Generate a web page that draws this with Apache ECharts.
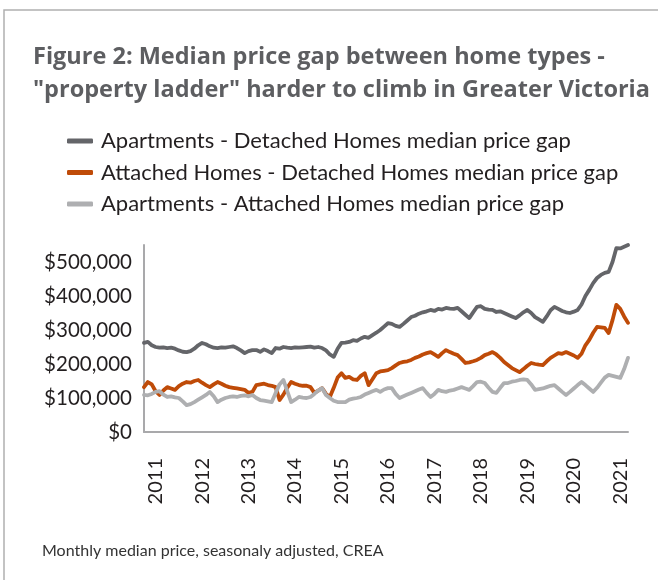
<!DOCTYPE html>
<html>
<head>
<meta charset="utf-8">
<script src="https://cdn.jsdelivr.net/npm/echarts@6/dist/echarts.min.js"></script>
<style>
  html, body { margin: 0; padding: 0; background: #fff; }
  #chart { width: 658px; height: 580px; }
</style>
</head>
<body>
<div id="chart"></div>
<script>
// Monthly series, Oct 2010 - Mar 2021, values in $ thousands
const START_YEAR = 2010;
const START_MONTH = 10;

const aptDetached = [262,265,255,250,248,249,247,248,245,240,
  236,235,238,245,255,262,258,252,248,247,
  249,248,250,252,247,240,232,238,241,241,
  236,243,238,232,247,245,250,248,247,249,
  248,249,250,251,248,250,247,240,228,221,
  245,262,263,265,270,268,275,280,277,285,
  292,300,310,320,318,312,309,318,328,338,
  342,348,352,355,359,356,362,360,365,363,
  362,365,355,345,335,352,368,370,362,360,
  359,353,355,350,345,340,335,343,352,359,
  350,338,331,324,340,358,368,362,356,352,
  350,354,359,375,400,418,438,453,462,468,
  471,500,541,540,545,550];

const attDetached = [132,147,140,120,109,122,132,128,124,135,
  142,147,145,150,153,145,138,132,140,147,
  142,136,132,130,128,126,124,115,118,138,
  140,142,138,136,132,94,110,130,147,142,
  138,136,136,132,115,122,129,112,103,130,
  160,173,159,162,155,153,165,173,138,155,
  173,178,180,182,188,196,203,206,208,212,
  218,222,228,232,235,228,221,232,241,235,
  230,226,215,203,205,208,212,218,226,230,
  235,228,218,206,197,188,182,176,185,195,
  203,200,198,197,208,218,225,232,230,235,
  230,225,218,230,255,271,292,309,308,306,
  291,329,374,362,340,321];

const aptAttached = [109,108,112,118,120,110,103,105,102,100,
  90,79,82,88,95,102,109,118,105,88,
  95,100,103,105,103,106,108,105,109,100,
  94,92,90,88,115,140,153,120,88,95,
  103,101,100,103,112,122,129,109,100,92,
  88,88,88,95,98,100,103,110,115,120,
  124,118,125,129,129,112,100,105,110,115,
  120,125,129,115,103,112,124,120,118,122,
  124,128,132,128,124,135,147,148,144,130,
  118,115,130,144,144,148,150,153,155,153,
  140,124,126,128,132,136,138,128,118,109,
  118,128,138,147,138,128,118,130,145,160,
  168,165,162,159,185,218];

const seriesNames = [
  'Apartments - Detached Homes median price gap',
  'Attached Homes - Detached Homes median price gap',
  'Apartments - Attached Homes median price gap'
];
const seriesColors = ['#646569', '#bf4b08', '#aeafb1'];

// month categories like "2011-01"
const months = [];
for (let i = 0; i < aptDetached.length; i++) {
  const m = START_MONTH - 1 + i;
  const y = START_YEAR + Math.floor(m / 12);
  months.push(y + '-' + String(m % 12 + 1).padStart(2, '0'));
}

const FONT = 'Lato, "Open Sans", sans-serif';
const chart = echarts.init(document.getElementById('chart'), null, { renderer: 'canvas' });

const makeSeries = (name, data, color) => ({
  name: name,
  type: 'line',
  data: data.map(v => v * 1000),
  showSymbol: false,
  symbol: 'none',
  lineStyle: { color: color, width: 3.8, join: 'round', cap: 'round' },
  itemStyle: { color: color },
  emphasis: { disabled: true }
});

chart.setOption({
  animation: false,
  graphic: [{
    type: 'rect',
    shape: { x: 4, y: 10, width: 700, height: 620 },
    style: { fill: 'none', stroke: '#b0b0b0', lineWidth: 1.5 },
    silent: true
  }],
  title: [{
    text: 'Figure 2: Median price gap between home types -\n"property ladder" harder to climb in Greater Victoria',
    left: 28,
    top: 36,
    textStyle: { fontFamily: '"Open Sans", Lato, sans-serif', fontSize: 23.5, fontWeight: 'bold', color: '#5d5e61', lineHeight: 33 }
  }, {
    text: 'Monthly median price, seasonaly adjusted, CREA',
    left: 37,
    top: 538,
    textStyle: { fontFamily: FONT, fontSize: 16, fontWeight: 'normal', color: '#333' }
  }],
  legend: {
    orient: 'vertical',
    left: 62,
    top: 125,
    itemWidth: 26,
    itemHeight: 5,
    itemGap: 9.5,
    icon: 'roundRect',
    data: seriesNames,
    textStyle: { fontFamily: FONT, fontSize: 22, color: '#231f20', padding: [0, 0, 0, 3] }
  },
  grid: { left: 144, right: 30, top: 245, bottom: 148, containLabel: false },
  xAxis: {
    type: 'category',
    data: months,
    boundaryGap: false,
    axisLine: { lineStyle: { color: '#a9a9ab', width: 2 } },
    axisTick: { show: false },
    axisLabel: {
      interval: (idx, val) => val.endsWith('-01'),
      formatter: val => val.slice(0, 4),
      rotate: 90,
      margin: 26,
      fontFamily: FONT,
      fontSize: 20,
      color: '#231f20'
    },
    splitLine: { show: false }
  },
  yAxis: {
    type: 'value',
    min: 0,
    max: 550000,
    interval: 100000,
    axisLine: { show: true, lineStyle: { color: '#a9a9ab', width: 2 } },
    axisTick: { show: false },
    splitLine: { show: false },
    axisLabel: {
      margin: 12,
      fontFamily: FONT,
      fontSize: 20.5,
      color: '#231f20',
      formatter: v => (v % 100000 === 0 ? '$' + v.toLocaleString('en-US') : '')
    }
  },
  series: [
    makeSeries(seriesNames[0], aptDetached, seriesColors[0]),
    makeSeries(seriesNames[1], attDetached, seriesColors[1]),
    makeSeries(seriesNames[2], aptAttached, seriesColors[2])
  ]
});
</script>
</body>
</html>
